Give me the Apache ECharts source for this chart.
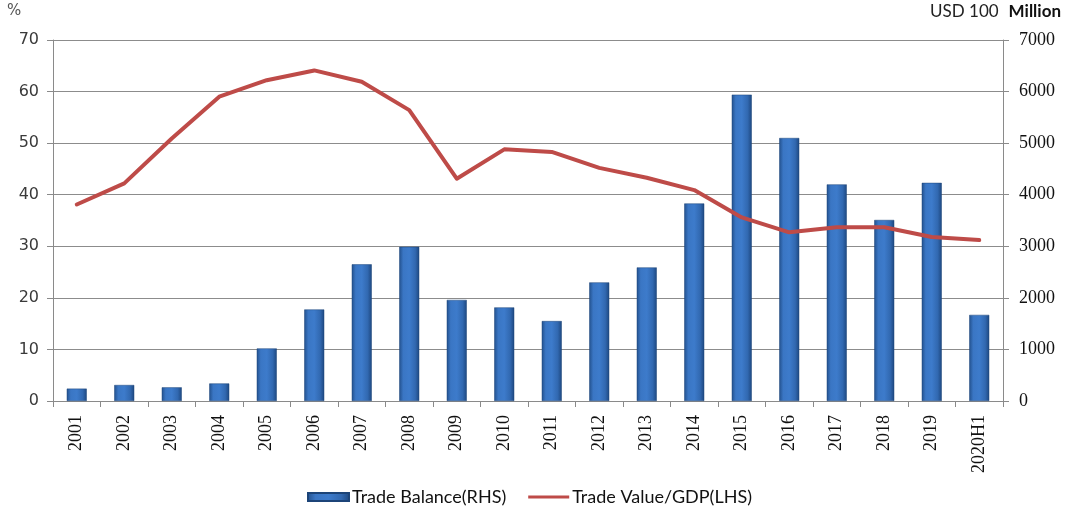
<!DOCTYPE html>
<html>
<head>
<meta charset="utf-8">
<script src="https://cdn.jsdelivr.net/npm/echarts@6/dist/echarts.min.js"></script>
<style>
  html, body { margin: 0; padding: 0; background: #fff; }
  #chart { width: 1065px; height: 515px; }
</style>
</head>
<body>
<div id="chart"></div>
<script>
// Years on the category axis
const categories = ['2001','2002','2003','2004','2005','2006','2007','2008','2009','2010',
                    '2011','2012','2013','2014','2015','2016','2017','2018','2019','2020H1'];
// Trade balance, USD 100 million (right axis)
const tradeBalance = [240, 310, 265, 340, 1020, 1775, 2650, 2990, 1960, 1815,
                      1550, 2300, 2590, 3830, 5940, 5100, 4200, 3510, 4230, 1670];
// Trade value as a share of GDP, % (left axis)
const tradeToGdp = [38.1, 42.2, 50.9, 59.0, 62.2, 64.1, 61.9, 56.4, 43.1, 48.8,
                    48.3, 45.2, 43.3, 40.9, 35.6, 32.7, 33.7, 33.7, 31.8, 31.2];
// Axis ranges
const leftAxisMax = 70, leftAxisStep = 10;
const rightAxisMax = 7000, rightAxisStep = 1000;

const chart = echarts.init(document.getElementById('chart'), null, { renderer: 'canvas' });

// Bevelled look for the columns: dark edges, lighter centre
const barFill = new echarts.graphic.LinearGradient(0, 0, 1, 0, [
  { offset: 0, color: '#22508c' },
  { offset: 0.2, color: '#3a76c4' },
  { offset: 0.5, color: '#3d7bcb' },
  { offset: 0.8, color: '#3168b0' },
  { offset: 1, color: '#1d477f' }
]);

chart.setOption({
  animation: false,
  grid: { left: 53, right: 62, top: 40, bottom: 114, containLabel: false },
  legend: {
    left: 302, top: 483,
    itemWidth: 41, itemHeight: 8, itemGap: 22,
    textStyle: { fontFamily: 'Lato', fontSize: 18, color: '#111', padding: [0, 0, 0, -2] },
    data: [
      { name: 'Trade Balance(RHS)', icon: 'rect' },
      { name: 'Trade Value/GDP(LHS)', icon: 'path://M0,0 L42,0 L42,3 L0,3 Z' }
    ]
  },
  graphic: [
    { type: 'text', left: 7, top: 4,
      style: { text: '%', fontFamily: 'DejaVu Sans', fontSize: 15, fill: '#555' } },
    { type: 'text', right: 4, top: 3,
      style: {
        text: '{a|USD 100}   {b|Million}',
        rich: {
          a: { fontFamily: 'Lato', fontSize: 17, fill: '#222' },
          b: { fontFamily: 'Lato', fontSize: 17, fontWeight: 'bold', fill: '#111' }
        }
      } }
  ],
  xAxis: {
    type: 'category',
    data: categories,
    boundaryGap: true,
    axisLine: { lineStyle: { color: '#8a8a8a', width: 1 } },
    axisTick: { show: true, alignWithLabel: false, length: 6, lineStyle: { color: '#8a8a8a' } },
    axisLabel: {
      interval: 0, rotate: 90, margin: 14,
      fontFamily: 'Liberation Serif', fontSize: 18, color: '#111'
    }
  },
  yAxis: [
    {
      type: 'value', min: 0, max: leftAxisMax, interval: leftAxisStep, position: 'left',
      axisLine: { show: true, lineStyle: { color: '#8a8a8a' } },
      axisTick: { show: true, length: 6, lineStyle: { color: '#8a8a8a' } },
      splitLine: { show: true, lineStyle: { color: '#8c8c8c', width: 1 } },
      axisLabel: { margin: 14, fontFamily: 'DejaVu Sans', fontSize: 16, color: '#3a3a3a' }
    },
    {
      type: 'value', min: 0, max: rightAxisMax, interval: rightAxisStep, position: 'right',
      axisLine: { show: true, lineStyle: { color: '#8a8a8a' } },
      axisTick: { show: true, length: 6, lineStyle: { color: '#8a8a8a' } },
      splitLine: { show: false },
      axisLabel: {
        margin: 16, fontFamily: 'Liberation Serif', fontSize: 18, color: '#111',
        formatter: (v) => String(v)
      }
    }
  ],
  series: [
    {
      name: 'Trade Balance(RHS)',
      type: 'bar',
      yAxisIndex: 1,
      data: tradeBalance,
      barWidth: 20,
      itemStyle: { color: barFill, borderColor: '#1c4478', borderWidth: 0.5 }
    },
    {
      name: 'Trade Value/GDP(LHS)',
      type: 'line',
      yAxisIndex: 0,
      data: tradeToGdp,
      symbol: 'none',
      lineStyle: { color: '#be4b48', width: 4, join: 'round', cap: 'round' },
      itemStyle: { color: '#be4b48' },
      z: 5
    }
  ]
});
</script>
</body>
</html>
